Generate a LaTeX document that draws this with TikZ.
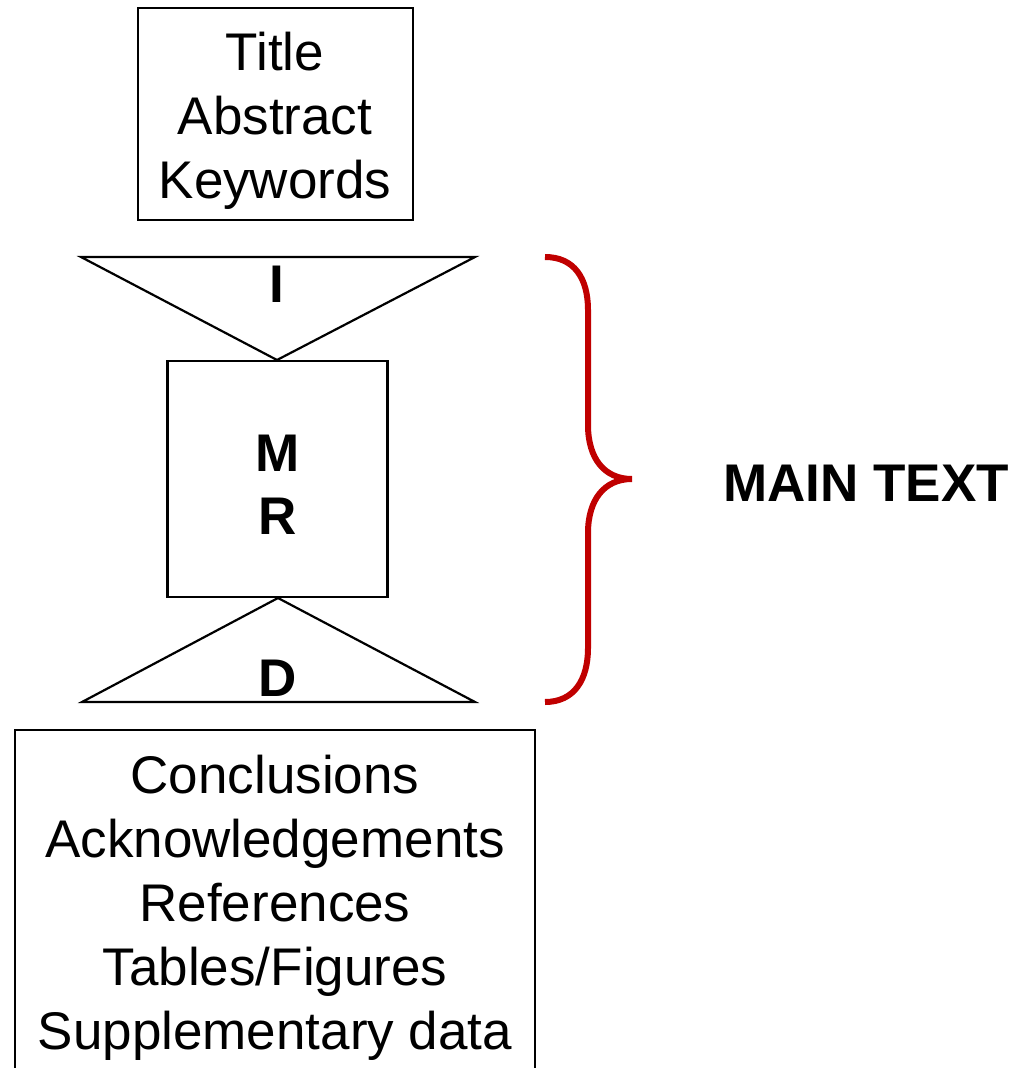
\documentclass[tikz,border=0pt]{standalone}
\usepackage{fontspec}
\setmainfont{Liberation Sans}
\definecolor{bracered}{RGB}{192,0,0}
\begin{document}
\begin{tikzpicture}[x=1pt,y=-1pt,
  frame/.style={draw=black,line width=2.2pt,inner sep=0pt,fill=none},
  txt/.style={anchor=base,inner sep=0pt,font=\fontsize{53}{64}\selectfont},
  btxt/.style={anchor=base,inner sep=0pt,font=\fontsize{53}{64}\selectfont\bfseries},
  outline/.style={draw=black,line width=2.2pt,line join=miter}]
\useasboundingbox (0,0) rectangle (1018,1068);
% top box
\node[frame,minimum width=275pt,minimum height=212pt] (topbox) at (275.5,114) {};
\node[txt] (title) at (275,70) {Title};
\node[txt] (abstract) at (275,134) {Abstract};
\node[txt] (keywords) at (275,198) {Keywords};
% intro triangle
\coordinate (iL) at (81,257);
\coordinate (iR) at (475,257);
\coordinate (iA) at (277,360);
\draw[outline] (iL) -- (iR) -- (iA) -- cycle;
\node[btxt] (I) at (277,302) {I};
% middle box
\node[frame,minimum width=220pt,minimum height=236pt] (mrbox) at (277.5,479) {};
\node[btxt] (M) at (278,471) {M};
\node[btxt] (R) at (278,534) {R};
% discussion triangle
\coordinate (dL) at (82,702);
\coordinate (dR) at (475,702);
\coordinate (dA) at (278,598);
\draw[outline] (dL) -- (dR) -- (dA) -- cycle;
\node[btxt] (D) at (278,696) {D};
% bottom box
\node[frame,minimum width=520pt,minimum height=350pt] (botbox) at (275,905) {};
\node[txt] (conc) at (275,793) {Conclusions};
\node[txt] (ack) at (275,857) {Acknowledgements};
\node[txt] (refs) at (275,921) {References};
\node[txt] (tabs) at (275,985) {Tables/Figures};
\node[txt] (supp) at (275,1049) {Supplementary data};
% brace
\coordinate (bTop) at (545,257);
\coordinate (bTip) at (632,479);
\coordinate (bBot) at (545,702);
\draw[bracered,line width=6pt]
  (bTop) .. controls (574,257) and (588,278) .. (588,310)
  -- (588,425) .. controls (588,458) and (604,479) .. (bTip)
  .. controls (604,479) and (588,500) .. (588,533)
  -- (588,648) .. controls (588,680) and (574,702) .. (bBot);
\node[btxt] (main) at (866,501) {MAIN TEXT};
\end{tikzpicture}
\end{document}
